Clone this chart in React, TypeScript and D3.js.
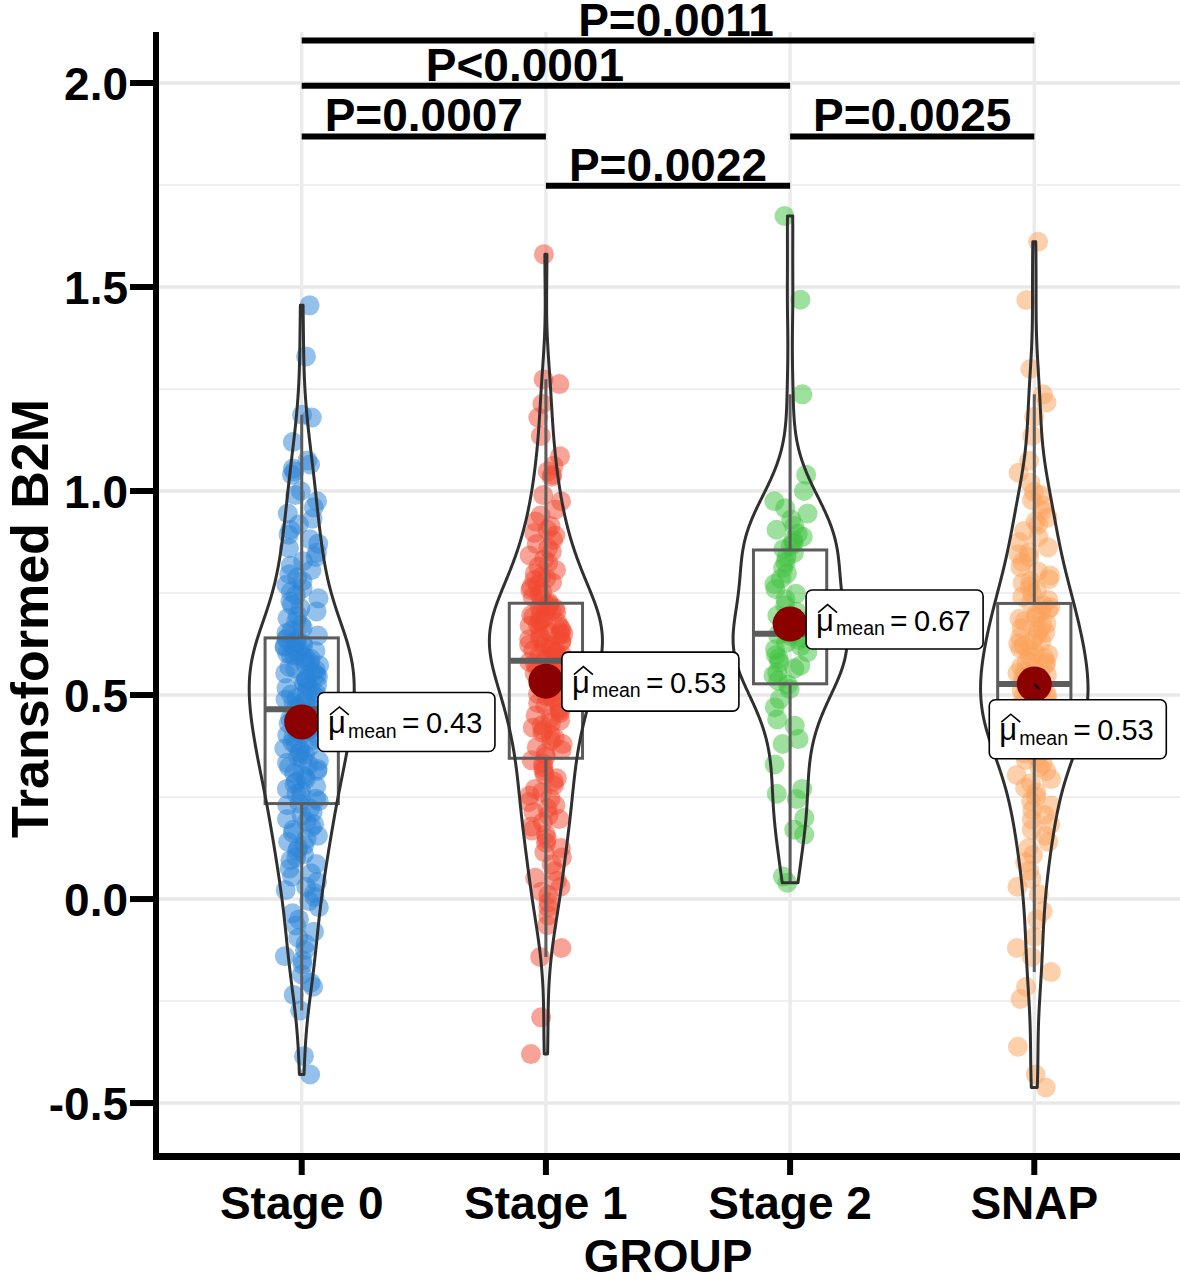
import React from "react";
import * as d3 from "d3";

// ---------------- data ----------------
const groups = ["Stage 0", "Stage 1", "Stage 2", "SNAP"];

const stage0 = [
  -0.430, -0.385, -0.273, -0.235, -0.215, -0.205, -0.185, -0.160, -0.150, -0.140, -0.125, -0.110,
  -0.095, -0.080, -0.065, -0.050, -0.035, -0.020, -0.005, 0.005, 0.015, 0.022, 0.030, 0.042, 0.055,
  0.063, 0.075, 0.086, 0.095, 0.102, 0.110, 0.118, 0.125, 0.132, 0.140, 0.148, 0.155, 0.162, 0.170,
  0.176, 0.183, 0.190, 0.196, 0.205, 0.213, 0.222, 0.230, 0.234, 0.240, 0.246, 0.252, 0.258, 0.264,
  0.270, 0.276, 0.282, 0.288, 0.294, 0.299, 0.304, 0.309, 0.314, 0.319, 0.324, 0.329, 0.334, 0.339,
  0.344, 0.349, 0.354, 0.359, 0.364, 0.369, 0.374, 0.379, 0.384, 0.389, 0.394, 0.398, 0.402, 0.406,
  0.410, 0.414, 0.418, 0.422, 0.426, 0.430, 0.434, 0.438, 0.442, 0.446, 0.450, 0.455, 0.460, 0.465,
  0.469, 0.473, 0.477, 0.481, 0.485, 0.489, 0.493, 0.497, 0.501, 0.505, 0.509, 0.513, 0.517, 0.521,
  0.525, 0.529, 0.533, 0.537, 0.541, 0.545, 0.549, 0.553, 0.557, 0.561, 0.565, 0.569, 0.573, 0.577,
  0.581, 0.585, 0.589, 0.593, 0.596, 0.599, 0.602, 0.605, 0.608, 0.611, 0.614, 0.617, 0.620, 0.623,
  0.626, 0.630, 0.634, 0.637, 0.640, 0.646, 0.652, 0.658, 0.665, 0.672, 0.680, 0.688, 0.695, 0.705,
  0.713, 0.721, 0.729, 0.737, 0.745, 0.753, 0.761, 0.770, 0.779, 0.788, 0.796, 0.806, 0.817, 0.828,
  0.838, 0.849, 0.860, 0.871, 0.882, 0.893, 0.905, 0.918, 0.932, 0.945, 0.960, 0.975, 0.990, 1.000,
  1.040, 1.048, 1.055, 1.065, 1.075, 1.120, 1.180, 1.187, 1.330, 1.455,
];

const stage1 = [
  -0.380, -0.290, -0.142, -0.120, -0.064, -0.040, -0.020, -0.008, 0.010, 0.018, 0.030, 0.045, 0.052,
  0.068, 0.085, 0.102, 0.115, 0.125, 0.138, 0.148, 0.158, 0.168, 0.178, 0.188, 0.196, 0.205, 0.213,
  0.222, 0.230, 0.238, 0.246, 0.254, 0.262, 0.270, 0.279, 0.288, 0.296, 0.305, 0.314, 0.323, 0.332,
  0.340, 0.350, 0.358, 0.365, 0.372, 0.380, 0.388, 0.395, 0.402, 0.408, 0.414, 0.420, 0.426, 0.432,
  0.438, 0.444, 0.450, 0.456, 0.462, 0.468, 0.474, 0.480, 0.486, 0.492, 0.498, 0.503, 0.508, 0.513,
  0.518, 0.523, 0.528, 0.533, 0.538, 0.543, 0.548, 0.553, 0.558, 0.563, 0.568, 0.573, 0.578, 0.581,
  0.584, 0.587, 0.590, 0.594, 0.597, 0.600, 0.603, 0.607, 0.610, 0.613, 0.617, 0.620, 0.623, 0.627,
  0.630, 0.633, 0.637, 0.640, 0.643, 0.647, 0.650, 0.653, 0.657, 0.660, 0.663, 0.667, 0.670, 0.673,
  0.677, 0.680, 0.684, 0.688, 0.692, 0.696, 0.700, 0.703, 0.706, 0.709, 0.712, 0.715, 0.718, 0.722,
  0.728, 0.734, 0.740, 0.746, 0.752, 0.758, 0.764, 0.770, 0.776, 0.782, 0.786, 0.790, 0.798, 0.806,
  0.815, 0.824, 0.833, 0.842, 0.851, 0.860, 0.870, 0.880, 0.891, 0.897, 0.905, 0.914, 0.925, 0.940,
  0.955, 0.975, 0.990, 1.035, 1.040, 1.048, 1.062, 1.085, 1.135, 1.180, 1.214, 1.262, 1.274, 1.580,
];

const stage2 = [
  0.040, 0.055, 0.158, 0.170, 0.199, 0.245, 0.258, 0.270, 0.330, 0.380, 0.392, 0.425, 0.440, 0.470,
  0.490, 0.515, 0.525, 0.535, 0.548, 0.555, 0.565, 0.572, 0.580, 0.590, 0.598, 0.605, 0.612, 0.620,
  0.628, 0.635, 0.640, 0.645, 0.648, 0.652, 0.665, 0.680, 0.695, 0.705, 0.720, 0.735, 0.748, 0.760,
  0.772, 0.785, 0.798, 0.812, 0.825, 0.838, 0.848, 0.858, 0.865, 0.872, 0.880, 0.888, 0.895, 0.905,
  0.915, 0.930, 0.945, 0.958, 0.975, 1.000, 1.040, 1.237, 1.469, 1.674,
];

const snap = [
  -0.462, -0.430, -0.362, -0.245, -0.215, -0.179, -0.142, -0.120, -0.093, -0.050, -0.030, 0.012, 0.030,
  0.050, 0.070, 0.090, 0.108, 0.125, 0.140, 0.155, 0.170, 0.183, 0.195, 0.206, 0.218, 0.229, 0.240,
  0.251, 0.262, 0.273, 0.284, 0.294, 0.304, 0.314, 0.323, 0.332, 0.341, 0.350, 0.357, 0.364, 0.370,
  0.375, 0.380, 0.385, 0.390, 0.395, 0.400, 0.405, 0.410, 0.414, 0.419, 0.424, 0.428, 0.433, 0.438,
  0.442, 0.447, 0.452, 0.456, 0.461, 0.466, 0.470, 0.475, 0.480, 0.484, 0.489, 0.494, 0.498, 0.503,
  0.507, 0.511, 0.515, 0.519, 0.522, 0.525, 0.529, 0.534, 0.539, 0.544, 0.549, 0.554, 0.559, 0.564,
  0.569, 0.574, 0.579, 0.584, 0.590, 0.595, 0.600, 0.605, 0.610, 0.615, 0.620, 0.626, 0.631, 0.637,
  0.642, 0.648, 0.653, 0.659, 0.664, 0.670, 0.675, 0.681, 0.687, 0.692, 0.698, 0.704, 0.710, 0.715,
  0.720, 0.726, 0.733, 0.741, 0.749, 0.757, 0.766, 0.775, 0.780, 0.784, 0.793, 0.803, 0.814, 0.826,
  0.838, 0.845, 0.850, 0.862, 0.875, 0.888, 0.902, 0.918, 0.925, 0.935, 0.952, 0.965, 0.978, 0.990,
  0.998, 1.020, 1.045, 1.074, 1.135, 1.182, 1.217, 1.237, 1.299, 1.468, 1.611,
];

const groupValues = [stage0, stage1, stage2, snap];
const meanValues = [0.434, 0.534, 0.674, 0.527];
const groupColors = ["#2a83d8", "#f1472f", "#3dc23d", "#fba15a"];

const yTickValues = [-0.5, 0, 0.5, 1.0, 1.5, 2.0];
const yMinorValues = [-0.25, 0.25, 0.75, 1.25, 1.75];

const comparisonPairs = [[0, 3], [0, 2], [0, 1], [1, 2], [2, 3]];
const comparisonLabels = ["P=0.0011", "P<0.0001", "P=0.0007", "P=0.0022", "P=0.0025"];
const comparisonLevels = [2.104, 1.993, 1.869, 1.748, 1.869];

// ---------------- layout ----------------
const W = 1180;
const H = 1282;
const PANEL = { left: 155.2, right: 1180.8, top: 32, bottom: 1156.5 };
const Y_DOMAIN = [-0.631, 2.125];
const LABEL_NUDGE = [8, -21, 0, 0, 0];
const MEAN_LABEL_OFFSET = [[16.2, -29.5], [16, -29], [16, -34], [-45, 15.7]];
const VIOLIN_WIDTH = [0.43, 0.463, 0.467, 0.44]; // full width at widest point, in band units
const FONT = "'Liberation Sans', Arial, Helvetica, sans-serif";

function jitterOf(i: number, g: number) {
  const s = Math.sin((i + 1) * 12.9898 + (g + 1) * 78.233) * 43758.5453;
  return (s - Math.floor(s)) * 2 - 1;
}

function bwNrd0(v: number[]) {
  const sd = d3.deviation(v) as number;
  const iqr = (d3.quantile(v, 0.75) as number) - (d3.quantile(v, 0.25) as number);
  const lo = Math.min(sd, iqr / 1.34);
  return 0.9 * lo * Math.pow(v.length, -0.2);
}

function densityOf(v: number[]) {
  const bw = bwNrd0(v);
  const lo = d3.min(v) as number;
  const hi = d3.max(v) as number;
  const norm = v.length * bw * Math.sqrt(2 * Math.PI);
  return d3.range(512).map((i) => {
    const t = lo + ((hi - lo) * i) / 511;
    const d = d3.sum(v, (x) => Math.exp(-0.5 * ((t - x) / bw) ** 2)) / norm;
    return { t, d };
  });
}

function boxStats(v: number[]) {
  const q1 = d3.quantile(v, 0.25) as number;
  const med = d3.quantile(v, 0.5) as number;
  const q3 = d3.quantile(v, 0.75) as number;
  const iqr = q3 - q1;
  const lo = d3.min(v.filter((x) => x >= q1 - 1.5 * iqr)) as number;
  const hi = d3.max(v.filter((x) => x <= q3 + 1.5 * iqr)) as number;
  return { q1, med, q3, lo, hi };
}

export default function App() {
  const x = d3.scalePoint<string>().domain(groups).range([PANEL.left, PANEL.right]).padding(0.6);
  const step = x.step();
  const y = d3.scaleLinear().domain(Y_DOMAIN).range([PANEL.bottom, PANEL.top]);

  const densities = groupValues.map(densityOf);
  const stats = groupValues.map(boxStats);
  const boxHalf = 0.15 * step;

  return (
    <svg
      width={W}
      height={H}
      viewBox={`0 0 ${W} ${H}`}
      style={{ position: "absolute", left: 0, top: 0, background: "#fff" }}
      fontFamily={FONT}
    >
      <rect x={0} y={0} width={W} height={H} fill="#ffffff" />
      {/* grid */}
      <g>
        {yMinorValues.map((v) => (
          <line key={`mn${v}`} x1={PANEL.left + 3} x2={W} y1={y(v)} y2={y(v)} stroke="#efefef" strokeWidth={2} />
        ))}
        {yTickValues.map((v) => (
          <line key={`mj${v}`} x1={PANEL.left + 3} x2={W} y1={y(v)} y2={y(v)} stroke="#e8e8e8" strokeWidth={3.5} />
        ))}
        {groups.map((g) => (
          <line key={`vg${g}`} x1={x(g)} x2={x(g)} y1={PANEL.top} y2={PANEL.bottom} stroke="#ebebeb" strokeWidth={3.5} />
        ))}
      </g>

      {/* jittered points */}
      <g>
        {groupValues.map((vals, gi) =>
          vals.map((v, i) => (
            <circle
              key={`p${gi}-${i}`}
              cx={(x(groups[gi]) as number) + jitterOf(i, gi) * 0.072 * step}
              cy={y(v)}
              r={10}
              fill={groupColors[gi]}
              fillOpacity={0.5}
            />
          ))
        )}
      </g>

      {/* boxplots */}
      <g>
        {stats.map((s, gi) => {
          const cx = x(groups[gi]) as number;
          return (
            <g key={`b${gi}`} stroke="#5c5c5c" fill="none">
              <line x1={cx} x2={cx} y1={y(s.q3)} y2={y(s.hi)} strokeWidth={3} />
              <line x1={cx} x2={cx} y1={y(s.q1)} y2={y(s.lo)} strokeWidth={3} />
              <rect x={cx - boxHalf} y={y(s.q3)} width={2 * boxHalf} height={y(s.q1) - y(s.q3)} strokeWidth={3} />
              <line x1={cx - boxHalf} x2={cx + boxHalf} y1={y(s.med)} y2={y(s.med)} strokeWidth={6} />
            </g>
          );
        })}
      </g>

      {/* violins */}
      <g>
        {densities.map((ds, gi) => {
          const cx = x(groups[gi]) as number;
          const maxD = d3.max(ds, (p) => p.d) as number;
          const half = (VIOLIN_WIDTH[gi] * step) / 2;
          const area = d3
            .area<{ t: number; d: number }>()
            .y((p) => y(p.t))
            .x0((p) => cx - (p.d / maxD) * half)
            .x1((p) => cx + (p.d / maxD) * half);
          return (
            <path key={`v${gi}`} d={area(ds) as string} fill="none" stroke="#303030" strokeWidth={3} strokeLinejoin="round" />
          );
        })}
      </g>

      {/* significance brackets */}
      <g>
        {comparisonPairs.map(([a, b], k) => {
          const x1 = x(groups[a]) as number;
          const x2 = x(groups[b]) as number;
          const yy = y(comparisonLevels[k]);
          return (
            <g key={`c${k}`}>
              <line x1={x1} x2={x2} y1={yy} y2={yy} stroke="#000" strokeWidth={6} />
              <text
                x={(x1 + x2) / 2 + LABEL_NUDGE[k]}
                y={yy - 5}
                textAnchor="middle"
                fontSize={46}
                fontWeight="bold"
                fill="#000"
              >
                {comparisonLabels[k]}
              </text>
            </g>
          );
        })}
      </g>

      {/* means */}
      <g>
        {meanValues.map((m, gi) => {
          const cx = x(groups[gi]) as number;
          const cy = y(m);
          const [dx, dy] = MEAN_LABEL_OFFSET[gi];
          const bx = cx + dx;
          const by = cy + dy;
          const lx = bx + 88.5 - cx;
          const ly = by + 29.5 - cy;
          const len = Math.hypot(lx, ly);
          return (
            <g key={`m${gi}`}>
              <circle cx={cx} cy={cy} r={17.5} fill="#8b0000" />
              {gi === 3 ? (
                <line x1={cx} y1={cy} x2={cx + (lx / len) * 7} y2={cy + (ly / len) * 7} stroke="#000" strokeWidth={2} />
              ) : null}
              <rect x={bx} y={by} width={177} height={59} rx={6} ry={6} fill="#fff" stroke="#000" strokeWidth={1.6} />
              <path
                d={`M${bx + 12},${by + 22.5} L${bx + 21.5},${by + 14.5} L${bx + 31},${by + 22.5}`}
                fill="none"
                stroke="#000"
                strokeWidth={1.6}
              />
              <text x={bx + 10} y={by + 40.5} fontSize={31} fill="#000">μ</text>
              <text x={bx + 30} y={by + 45.3} fontSize={19.5} fill="#000">mean</text>
              <text x={bx + 84} y={by + 40.5} fontSize={30} fill="#000">=</text>
              <text x={bx + 108} y={by + 40.5} fontSize={29} fill="#000">{m.toFixed(2)}</text>
            </g>
          );
        })}
      </g>

      {/* axes */}
      <g>
        <line x1={153} x2={W} y1={PANEL.bottom} y2={PANEL.bottom} stroke="#000" strokeWidth={7} />
        <line x1={156} x2={156} y1={PANEL.top} y2={1160} stroke="#000" strokeWidth={6} />
        {yTickValues.map((v) => (
          <g key={`yt${v}`}>
            <line x1={130} x2={153} y1={y(v)} y2={y(v)} stroke="#000" strokeWidth={6} />
            <text x={128} y={y(v) + 16.5} textAnchor="end" fontSize={46} fontWeight="bold" fill="#000">
              {v.toFixed(1)}
            </text>
          </g>
        ))}
        {groups.map((g) => (
          <g key={`xt${g}`}>
            <line x1={x(g)} x2={x(g)} y1={1160} y2={1175} stroke="#000" strokeWidth={6} />
            <text x={x(g)} y={1219} textAnchor="middle" fontSize={46} fontWeight="bold" fill="#000">
              {g}
            </text>
          </g>
        ))}
        <text x={(PANEL.left + PANEL.right) / 2} y={1272} textAnchor="middle" fontSize={46} fontWeight="bold" fill="#000">
          GROUP
        </text>
        <text
          transform="translate(48,618.5) rotate(-90)"
          textAnchor="middle"
          fontSize={52}
          fontWeight="bold"
          fill="#000"
        >
          Transformed B2M
        </text>
      </g>
    </svg>
  );
}
